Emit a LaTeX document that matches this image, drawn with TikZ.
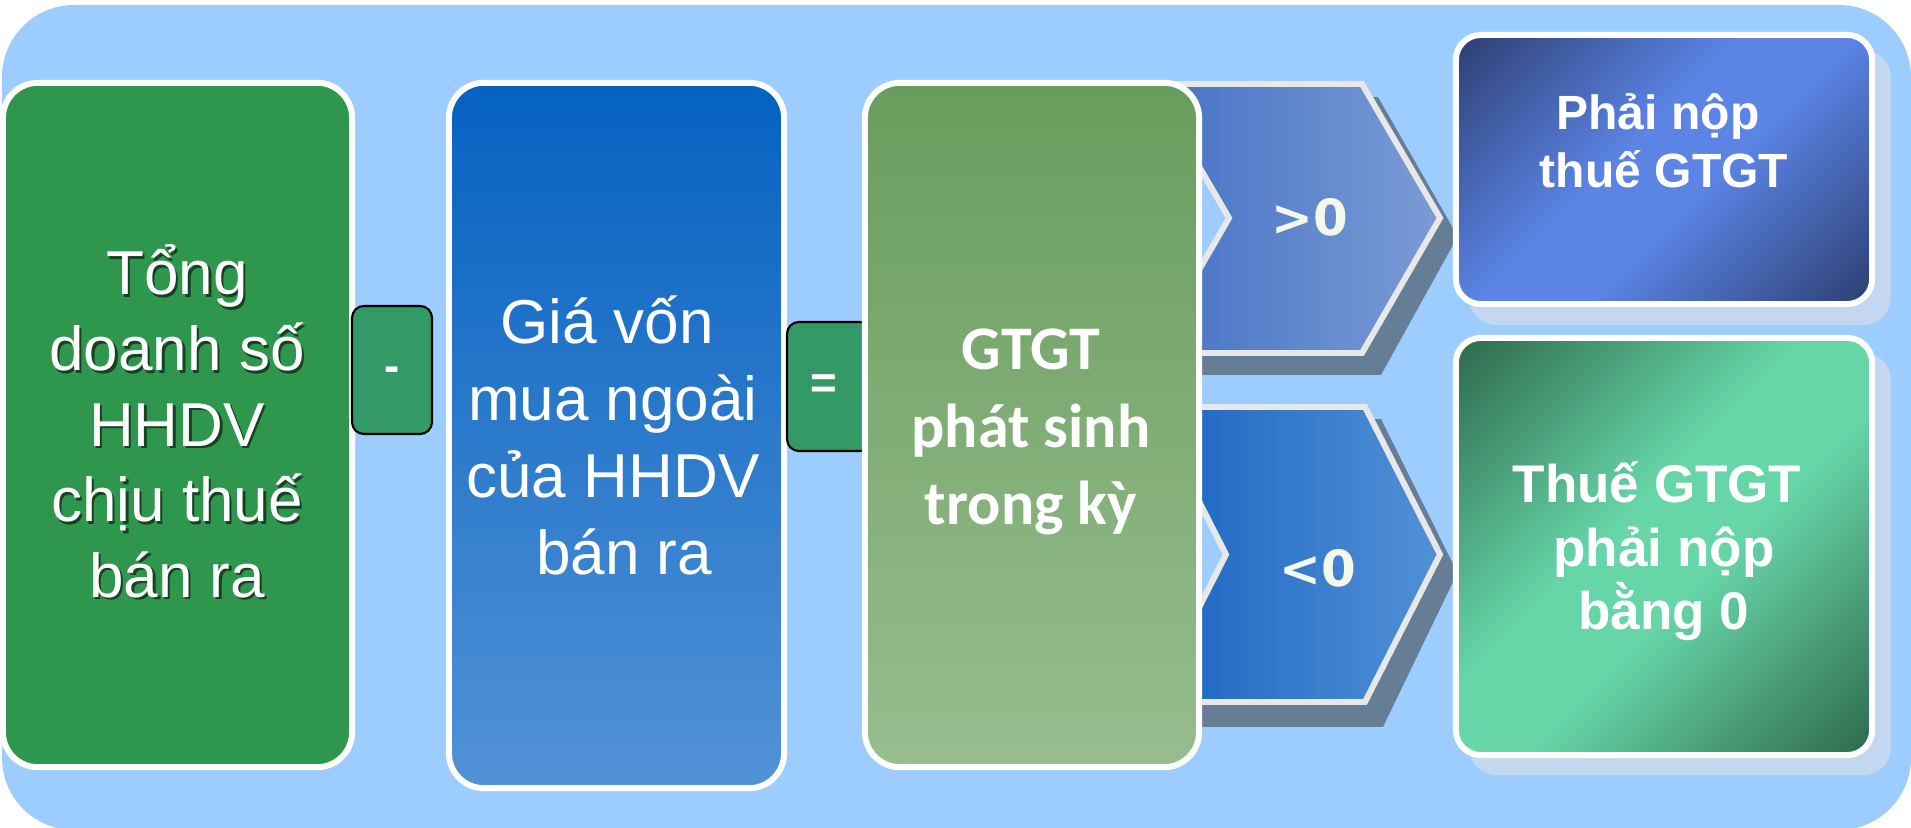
\documentclass[tikz,border=0pt]{standalone}
\usepackage{fontspec}
\setmainfont{Liberation Sans}
\newfontfamily\calfont{Carlito}
\newfontfamily\djfont{DejaVu Sans}
\definecolor{bgblue}{HTML}{9DCDFE}
\definecolor{gbox}{HTML}{2F964D}
\definecolor{opbox}{HTML}{339966}
\definecolor{bluetop}{HTML}{0562C1}
\definecolor{bluebot}{HTML}{5292D6}
\definecolor{greentop}{HTML}{689D5D}
\definecolor{greenbot}{HTML}{98BD8E}
\definecolor{chevAl}{HTML}{4472C4}
\definecolor{chevAr}{HTML}{7B9BD5}
\definecolor{chevBl}{HTML}{1A64C0}
\definecolor{chevBr}{HTML}{5291D6}
\definecolor{chevshadow}{HTML}{657E96}
\definecolor{chevline}{HTML}{E8E8E8}
\definecolor{navy}{HTML}{2D3F72}
\definecolor{brightblue}{HTML}{5B84E5}
\definecolor{dkgreen}{HTML}{2F6A4E}
\definecolor{mint}{HTML}{66D5A8}
\definecolor{boxshadow}{HTML}{C2D8F0}
\definecolor{chevtext}{HTML}{F4F8EC}
\pgfdeclarehorizontalshading{diagblue}{100bp}{color(0bp)=(navy); color(15bp)=(navy); color(44bp)=(brightblue); color(56bp)=(brightblue); color(85bp)=(navy); color(100bp)=(navy)}
\pgfdeclarehorizontalshading{diaggreen}{100bp}{color(0bp)=(dkgreen); color(15bp)=(dkgreen); color(44bp)=(mint); color(56bp)=(mint); color(85bp)=(dkgreen); color(100bp)=(dkgreen)}
\tikzset{
  bigbox/.style={rectangle, draw=white, line width=1.7pt, rounded corners=0.35cm, inner sep=0pt, outer sep=0pt},
  sidebox/.style={rectangle, draw=white, line width=1.7pt, rounded corners=0.25cm, inner sep=0pt, outer sep=0pt},
  shadowbox/.style={rectangle, fill=boxshadow, rounded corners=0.28cm, inner sep=0pt, outer sep=0pt},
  opsign/.style={rectangle, draw=black, fill=opbox, line width=0.6pt, rounded corners=0.12cm, inner sep=0pt, outer sep=0pt},
  chevron/.style={draw=chevline, line width=1.7pt},
  t1/.style={anchor=base, text=white, inner sep=0pt, font=\fontsize{17.64pt}{21pt}\selectfont},
  t1shadow/.style={t1, text=black, opacity=0.55},
  t3/.style={anchor=base, text=white, inner sep=0pt, font=\calfont\bfseries\fontsize{17.64pt}{21pt}\selectfont},
  tr/.style={anchor=base, text=white, inner sep=0pt, font=\bfseries\fontsize{13.66pt}{16pt}\selectfont},
  br/.style={anchor=base, text=white, inner sep=0pt, font=\bfseries\fontsize{15.08pt}{18pt}\selectfont},
  cv/.style={anchor=base, text=chevtext, inner sep=0pt, font=\djfont\bfseries\fontsize{14.2pt}{17pt}\selectfont},
  op/.style={text=white, inner sep=0pt, font=\bfseries\fontsize{13pt}{15pt}\selectfont}
}
\begin{document}
\begin{tikzpicture}[x=0.01cm, y=-0.01cm]
\useasboundingbox (0,0) rectangle (1911,828);
% background
\fill[bgblue, rounded corners=0.72cm] (2,5) rectangle (1911,830);
% box 1
\node[bigbox, fill=gbox, minimum width=3.49cm, minimum height=6.84cm] (b1) at (177.5,425) {};
% minus sign box
\node[opsign, minimum width=0.80cm, minimum height=1.28cm] (minus) at (392,370) {};
% box 2
\node[bigbox, top color=bluetop, bottom color=bluebot, minimum width=3.35cm, minimum height=7.05cm] (b2) at (616.5,435.5) {};
% equals sign box
\node[opsign, minimum width=0.85cm, minimum height=1.29cm] (equals) at (829.5,386.5) {};
% chevron shadows
\fill[chevshadow] (1243,236) -- (1165,100) -- (1378,97) -- (1453,228) -- (1453,245) -- (1381,375) -- (1165,375) -- cycle;
\fill[chevshadow] (1240,570) -- (1165,421) -- (1381,419) -- (1453,564) -- (1453,582) -- (1383,727) -- (1165,727) -- cycle;
% chevrons
\draw[chevron, left color=chevAl, right color=chevAr] (1229,218) -- (1151,84) -- (1362,84) -- (1440,218) -- (1362,353) -- (1151,353) -- cycle;
\draw[chevron, left color=chevBl, right color=chevBr] (1226,554.5) -- (1151,407) -- (1365,407) -- (1440,554.5) -- (1365,702) -- (1151,702) -- cycle;
% box 3
\node[bigbox, top color=greentop, bottom color=greenbot, minimum width=3.34cm, minimum height=6.84cm] (b3) at (1032,425) {};
% right boxes
\node[shadowbox, minimum width=4.22cm, minimum height=2.75cm] (trs) at (1680,187.5) {};
\node[sidebox, shading=diagblue, shading angle=-45, minimum width=4.16cm, minimum height=2.69cm] (tr) at (1664,169.5) {};
\node[shadowbox, minimum width=4.22cm, minimum height=4.22cm] (brs) at (1680,564) {};
\node[sidebox, shading=diaggreen, shading angle=-45, minimum width=4.16cm, minimum height=4.17cm] (brb) at (1664,546.5) {};
% texts box 1
\foreach \txt [count=\i] in {Tổng, doanh số, HHDV, chịu thuế, bán ra} {
  \node[t1shadow] (s1-\i) at (179.5, {297.5+75.6*(\i-1)}) {\txt};
  \node[t1] (t1-\i) at (177, {295+75.6*(\i-1)}) {\txt};
}
% texts box 2
\foreach \txt/\xx [count=\i] in {Giá vốn/607, mua ngoài/613, của HHDV/613, bán ra/624} {
  \node[t1] (t2-\i) at (\xx, {344+77*(\i-1)}) {\txt};
}
% texts box 3
\foreach \txt [count=\i] in {GTGT, phát sinh, trong kỳ} {
  \node[t3] (t3-\i) at (1031, {370+77.5*(\i-1)}) {\txt};
}
% operator signs
\node[op] (minus-t) at (392,374) {-};
\node[op] (equals-t) at (824,387) {=};
% chevron labels
\node[cv] (gt) at (1310,236) {>0};
\node[cv] (lt) at (1318,587) {<0};
% right box texts
\node[tr] (tr-1) at (1658,130) {Phải nộp};
\node[tr] (tr-2) at (1664,188) {thuế GTGT};
\node[br] (br-1) at (1657,503) {Thuế GTGT};
\node[br] (br-2) at (1664,567) {phải nộp};
\node[br] (br-3) at (1664,630) {bằng 0};
\end{tikzpicture}
\end{document}
